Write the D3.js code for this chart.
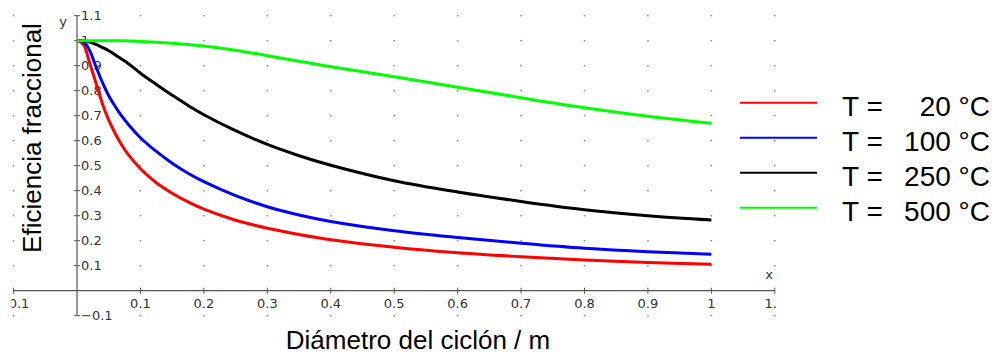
<!DOCTYPE html>
<html><head><meta charset="utf-8">
<script src="https://cdn.jsdelivr.net/npm/d3@7"></script>
<style>body{margin:0;background:#fff}svg{display:block}</style>
</head><body>
<svg id="c" width="997" height="355"></svg>
<script>
const diameters = [0, 0.01, 0.02, 0.03, 0.04, 0.05, 0.06, 0.07, 0.08, 0.1, 0.125, 0.15, 0.175, 0.2, 0.25, 0.3, 0.35, 0.4, 0.5, 0.6, 0.7, 0.8, 0.9, 1.0];
const eff20  = [1, 0.985, 0.91, 0.83, 0.748, 0.682, 0.63, 0.585, 0.547, 0.488, 0.432, 0.39, 0.355, 0.326, 0.282, 0.25, 0.225, 0.204, 0.174, 0.152, 0.136, 0.123, 0.113, 0.106];
const eff100 = [1, 0.997, 0.96, 0.895, 0.833, 0.78, 0.738, 0.70, 0.668, 0.612, 0.557, 0.51, 0.47, 0.436, 0.38, 0.336, 0.303, 0.277, 0.24, 0.213, 0.19, 0.17, 0.156, 0.146];
const eff250 = [1, 1, 0.995, 0.985, 0.973, 0.96, 0.944, 0.927, 0.91, 0.87, 0.825, 0.782, 0.741, 0.704, 0.64, 0.585, 0.54, 0.502, 0.44, 0.395, 0.357, 0.324, 0.3, 0.283];
const eff500 = [1, 1, 1, 1, 1, 1, 1, 1, 0.999, 0.997, 0.994, 0.99, 0.985, 0.979, 0.962, 0.94, 0.918, 0.896, 0.856, 0.814, 0.772, 0.732, 0.698, 0.67];
const seriesLabel = "T =";
const seriesValues = ["20 °C", "100 °C", "250 °C", "500 °C"];
const seriesColors = ["#ff0000", "#0000ff", "#000000", "#00ff00"];
const tickValues = [-0.1, 0.1, 0.2, 0.3, 0.4, 0.5, 0.6, 0.7, 0.8, 0.9, 1, 1.1];
const yTickValues = [-0.1, 0.1, 0.2, 0.3, 0.4, 0.5, 0.6, 0.7, 0.8, 0.9, 1, 1.1];
const gridValues = [-0.1, 0, 0.1, 0.2, 0.3, 0.4, 0.5, 0.6, 0.7, 0.8, 0.9, 1, 1.1];
const allSeries = [eff20, eff100, eff250, eff500];

const svg = d3.select("#c");
const x = d3.scaleLinear().domain([-0.1, 1.1]).range([13.6, 774.8]);
const y = d3.scaleLinear().domain([-0.1, 1.1]).range([315.7, 15.7]);

svg.append("defs").append("clipPath").attr("id", "pc")
  .append("rect").attr("x", 11.5).attr("y", 0).attr("width", 776 - 11.5).attr("height", 328);
const g = svg.append("g").attr("clip-path", "url(#pc)");

// grid dots
gridValues.forEach(gx => gridValues.forEach(gy => {
  if (Math.abs(gx) < 1e-9 || Math.abs(gy) < 1e-9) return;
  g.append("rect").attr("x", x(gx) - 0.75).attr("y", y(gy) - 0.75)
    .attr("width", 1.5).attr("height", 1.5).attr("fill", "#8a8a8a");
}));

// axes
const axCol = "#555";
g.append("line").attr("x1", x(-0.1)).attr("x2", x(1.1)).attr("y1", y(0)).attr("y2", y(0))
  .attr("stroke", axCol).attr("stroke-width", 1.2);
g.append("line").attr("x1", x(0)).attr("x2", x(0)).attr("y1", y(-0.1)).attr("y2", y(1.1))
  .attr("stroke", axCol).attr("stroke-width", 1.2);

const tickFont = "'DejaVu Sans', sans-serif";
const fmt = v => d3.format("")(v).replace("-", "\u2212");
tickValues.forEach(v => {
  g.append("line").attr("x1", x(v)).attr("x2", x(v)).attr("y1", y(0) - 3).attr("y2", y(0) + 3)
    .attr("stroke", axCol).attr("stroke-width", 1);
  g.append("text").attr("x", x(v)).attr("y", y(0) + 14).attr("text-anchor", "middle")
    .attr("dominant-baseline", "middle").attr("font-family", tickFont).attr("font-size", 13)
    .attr("fill", "#333").text(fmt(v));
});
yTickValues.forEach(v => {
  g.append("line").attr("x1", x(0) - 3).attr("x2", x(0) + 3).attr("y1", y(v)).attr("y2", y(v))
    .attr("stroke", axCol).attr("stroke-width", 1);
  g.append("text").attr("x", x(0) + 4).attr("y", y(v) + 0.5)
    .attr("dominant-baseline", "middle").attr("font-family", tickFont).attr("font-size", 13)
    .attr("fill", "#333").text(fmt(v));
});
g.append("text").attr("x", 63).attr("y", 26).attr("text-anchor", "middle")
  .attr("font-family", tickFont).attr("font-size", 13).attr("fill", "#333").text("y");
g.append("text").attr("x", 769).attr("y", 279).attr("text-anchor", "middle")
  .attr("font-family", tickFont).attr("font-size", 13).attr("fill", "#333").text("x");

// curves
const line = d3.line().x((d, i) => x(diameters[i])).y(d => y(d)).curve(d3.curveCatmullRom.alpha(0.5));
allSeries.forEach((s, k) => {
  g.append("path").attr("d", line(s)).attr("fill", "none")
    .attr("stroke", seriesColors[k]).attr("stroke-width", 3).attr("stroke-linejoin", "round");
});

// titles
const titleFont = "'Liberation Sans', Arial, sans-serif";
svg.append("text").attr("transform", "translate(41,138) rotate(-90)").attr("text-anchor", "middle")
  .attr("font-family", titleFont).attr("font-size", 26).attr("fill", "#000").text("Eficiencia fraccional");
svg.append("text").attr("x", 418).attr("y", 349).attr("text-anchor", "middle")
  .attr("font-family", titleFont).attr("font-size", 26).attr("fill", "#000").text("Diámetro del ciclón / m");

// legend
const leg = svg.append("g");
seriesColors.forEach((c, k) => {
  const ly = 102.7 + k * 35;
  leg.append("line").attr("x1", 740).attr("x2", 817).attr("y1", ly).attr("y2", ly)
    .attr("stroke", c).attr("stroke-width", 2);
  leg.append("text").attr("x", 842).attr("y", ly + 13).attr("font-family", titleFont)
    .attr("font-size", 28).attr("fill", "#000").text(seriesLabel);
  leg.append("text").attr("x", 990).attr("y", ly + 13).attr("text-anchor", "end").attr("font-family", titleFont)
    .attr("font-size", 28).attr("fill", "#000").text(seriesValues[k]);
});
</script>
</body></html>
